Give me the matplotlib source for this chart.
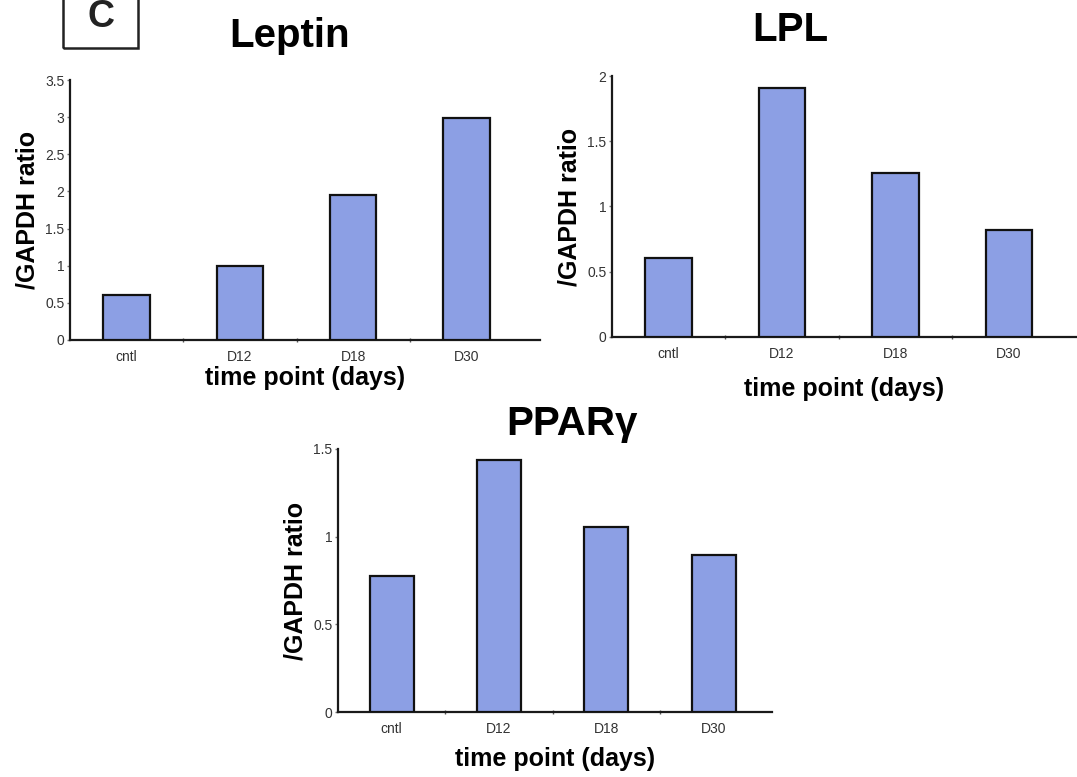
import matplotlib
matplotlib.use('Agg')
import matplotlib.pyplot as plt
from matplotlib.patches import Rectangle
import numpy as np

plt.rcParams['font.family'] = ['Liberation Sans', 'DejaVu Sans']

# data
categories = ['cntl', 'D12', 'D18', 'D30']
leptin = [0.61, 1.0, 1.95, 2.99]
lpl = [0.605, 1.91, 1.26, 0.82]
pparg = [0.776, 1.44, 1.055, 0.895]

bar_color = '#8c9fe4'
W, H = 1077, 777

fig = plt.figure(figsize=(W / 100, H / 100), dpi=100)


def px_axes(x_left, x_right, y_top, y_bottom):
    # axes rectangle from pixel coords of the reference
    return fig.add_axes([x_left / W, 1 - y_bottom / H,
                         (x_right - x_left) / W, (y_bottom - y_top) / H])


def draw_panel(ax, vals, ymax, ystep, xmax, xlab_pad):
    x = np.arange(len(categories))
    ax.bar(x, vals, width=0.41, color=bar_color, edgecolor='#111111',
           linewidth=1.6, zorder=3)
    ax.set_xlim(-0.5, xmax)
    ax.set_ylim(0, ymax)
    for s in ['top', 'right']:
        ax.spines[s].set_visible(False)
    for s in ['left', 'bottom']:
        ax.spines[s].set_linewidth(1.6)
        ax.spines[s].set_color('#1a1a1a')
    ax.set_xticks(x)
    ax.set_xticklabels(categories, fontsize=10, color='#333333')
    ax.set_xticks(np.arange(0.5, len(categories) - 0.5, 1.0), minor=True)
    ax.tick_params(axis='x', which='major', length=0, pad=7)
    ax.tick_params(axis='x', which='minor', length=3, direction='inout',
                   width=1, color='#555555')
    yt = np.arange(0, ymax + 1e-9, ystep)
    ax.set_yticks(yt)
    ax.set_yticklabels(['%g' % v for v in yt], fontsize=10, color='#333333')
    ax.tick_params(axis='y', length=2, direction='out', width=1,
                   color='#777777', pad=2)
    ax.set_xlabel('time point (days)', fontsize=18, fontweight='bold',
                  labelpad=xlab_pad)
    ax.set_ylabel('/GAPDH ratio', fontsize=18, fontweight='bold', labelpad=4)


ax1 = px_axes(70, 540, 80, 340)
draw_panel(ax1, leptin, 3.5, 0.5, 3.65, 2)

ax2 = px_axes(612, 1077, 76, 337)
draw_panel(ax2, lpl, 2.0, 0.5, 3.6, 12)

ax3 = px_axes(338, 772, 449, 712)
draw_panel(ax3, pparg, 1.5, 0.5, 3.545, 8)

# titles
fig.text(290 / W, 1 - 36 / H, 'Leptin', fontsize=29, fontweight='bold',
         ha='center', va='center')
fig.text(790 / W, 1 - 30 / H, 'LPL', fontsize=29, fontweight='bold',
         ha='center', va='center')
fig.text(572 / W, 1 - 424 / H, 'PPARγ', fontsize=29, fontweight='bold',
         ha='center', va='center')

# panel letter in box
fig.patches.append(Rectangle((63 / W, 1 - 48 / H), 75 / W, 52 / H,
                             transform=fig.transFigure, fill=False,
                             edgecolor='#222222', linewidth=1.8))
fig.text(101 / W, 1 - 17 / H, 'C', fontsize=27, fontweight='bold',
         ha='center', va='center', color='#222222')

fig.savefig('out.png', dpi=100)
